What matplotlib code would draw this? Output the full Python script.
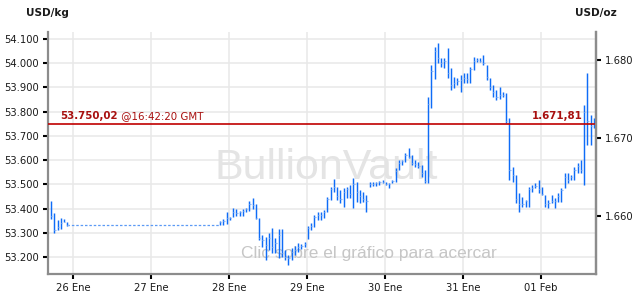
import matplotlib
matplotlib.use('Agg')
import matplotlib.pyplot as plt
import numpy as np

# precio del oro, barras horarias (USD/kg)
# viernes 25 Ene, ultimas horas
fri_hours = [-6.75, -5.75, -4.75, -3.75, -2.75, -1.75]
fri_high = [53431, 53383, 53353, 53360, 53357, 53346]
fri_low = [53356, 53300, 53312, 53314, 53345, 53329]
fri_close = [53371, 53310, 53325, 53340, 53345, 53331]

# desde el domingo 27 Ene 21h hasta el 01 Feb
start_hour = 45.25
high = [53350, 53356, 53385, 53366, 53401, 53397, 53390, 53397, 53404, 53431,
        53445, 53418, 53360, 53291, 53284, 53298, 53319, 53277, 53314, 53314,
        53229, 53208, 53236, 53245, 53258, 53254, 53263, 53328, 53339, 53373,
        53387, 53387, 53394, 53449, 53490, 53521, 53490, 53477, 53484, 53490,
        53497, 53525, 53511, 53477, 53470, 53456, 53508, 53508, 53508, 53514,
        53518, 53511, 53504, 53518, 53566, 53601, 53601, 53628, 53649, 53621,
        53601, 53594, 53580, 53559, 53862, 53993, 54068, 54082, 54020, 54022,
        54063, 53980, 53943, 53939, 53951, 53958, 53958, 53986, 54026, 54022,
        54022, 54034, 53993, 53938, 53910, 53889, 53902, 53881, 53876, 53773,
        53573, 53539, 53463, 53449, 53435, 53490, 53497, 53504, 53518, 53490,
        53456, 53435, 53456, 53444, 53463, 53484, 53546, 53546, 53539, 53573,
        53587, 53601, 53828, 53958, 53786, 53774]
low = [53332, 53332, 53335, 53353, 53366, 53369, 53369, 53369, 53387, 53390,
       53397, 53356, 53270, 53243, 53188, 53229, 53215, 53215, 53195, 53201,
       53188, 53167, 53188, 53208, 53222, 53233, 53243, 53273, 53312, 53325,
       53353, 53353, 53360, 53387, 53435, 53470, 53435, 53422, 53408, 53442,
       53442, 53401, 53428, 53422, 53428, 53387, 53490, 53494, 53494, 53497,
       53504, 53497, 53484, 53504, 53511, 53559, 53580, 53594, 53608, 53580,
       53573, 53566, 53532, 53507, 53507, 53814, 53934, 54000, 53986, 53980,
       53939, 53889, 53898, 53910, 53882, 53917, 53917, 53917, 53972, 54005,
       54005, 53993, 53931, 53889, 53861, 53848, 53852, 53861, 53752, 53518,
       53511, 53423, 53387, 53408, 53408, 53408, 53470, 53484, 53463, 53456,
       53408, 53401, 53422, 53401, 53428, 53428, 53484, 53504, 53518, 53518,
       53546, 53546, 53497, 53662, 53662, 53733]
close = [53345, 53350, 53360, 53362, 53385, 53380, 53385, 53390, 53400, 53420,
         53415, 53360, 53280, 53270, 53250, 53280, 53240, 53260, 53290, 53215,
         53200, 53195, 53220, 53230, 53240, 53245, 53255, 53320, 53330, 53365,
         53375, 53375, 53385, 53440, 53480, 53490, 53450, 53440, 53470, 53480,
         53460, 53500, 53470, 53450, 53440, 53430, 53500, 53500, 53505, 53508,
         53510, 53500, 53500, 53512, 53555, 53590, 53595, 53620, 53615, 53590,
         53585, 53575, 53545, 53515, 53830, 53970, 54050, 54020, 54000, 54010,
         53960, 53910, 53920, 53925, 53930, 53940, 53935, 53975, 54010, 54015,
         54010, 54000, 53945, 53900, 53880, 53860, 53870, 53870, 53760, 53560,
         53540, 53440, 53420, 53420, 53430, 53480, 53485, 53495, 53480, 53460,
         53420, 53425, 53430, 53430, 53450, 53475, 53530, 53520, 53530, 53560,
         53575, 53560, 53800, 53760, 53740, 53750]

last_kg = 53750.02
last_oz = 1671.81
oz_per_kg = 32.1507466

day_labels = ['26 Ene', '27 Ene', '28 Ene', '29 Ene', '30 Ene', '31 Ene', '01 Feb']
left_ticks = [53200, 53300, 53400, 53500, 53600, 53700, 53800, 53900, 54000, 54100]
right_ticks = [1660, 1670, 1680]


def eu(v):
    return '{:,.0f}'.format(v).replace(',', '.')


W, H = 643, 300
fig = plt.figure(figsize=(W / 100, H / 100), dpi=100)
ax = fig.add_axes([48 / W, 1 - 274 / H, (596 - 48) / W, (274 - 32) / H])

blue = '#0f6cf7'
x_fri = np.array(fri_hours) / 24
x_main = (start_hour + np.arange(len(high))) / 24

ax.vlines(x_fri, fri_low, fri_high, color=blue, lw=1.05, zorder=3)
ax.hlines(fri_close, x_fri, x_fri + 0.018, color='#8db6f5', lw=0.8, zorder=3)
ax.vlines(x_main, low, high, color=blue, lw=1.05, zorder=3)
ax.hlines(close, x_main, x_main + 0.018, color='#8db6f5', lw=0.8, zorder=3)
# fin de semana sin cotizacion
ax.plot([x_fri[-1], x_main[0]], [fri_close[-1], fri_close[-1]], ls=(0, (2, 1.5)),
        color='#5c9af5', lw=0.9, zorder=2)

ax.axhline(last_kg, color='#c00000', lw=1.2, zorder=4)

ax.set_xlim(-0.3205, 6.705)
ax.set_ylim(53130, 54129)
ax.set_xticks(range(len(day_labels)))
ax.set_xticklabels(day_labels)
ax.set_yticks(left_ticks)
ax.set_yticklabels([eu(v) for v in left_ticks])
ax.grid(True, color='#e8e8e8', lw=1.1, zorder=0)
ax.set_axisbelow(True)

for s in ['left', 'bottom', 'right']:
    ax.spines[s].set_color('#8c8c8c')
    ax.spines[s].set_linewidth(1.6)
ax.spines['top'].set_visible(False)
ax.tick_params(length=3.5, width=1.5, color='black', labelsize=7.2,
               labelcolor='#1a1a1a', pad=3)

ax2 = ax.twinx()
ax2.set_ylim(ax.get_ylim())
ax2.set_yticks([v * oz_per_kg for v in right_ticks])
ax2.set_yticklabels([eu(v) for v in right_ticks])
for s in ['left', 'bottom', 'top']:
    ax2.spines[s].set_visible(False)
ax2.spines['right'].set_color('#8c8c8c')
ax2.spines['right'].set_linewidth(1.6)
ax2.tick_params(length=3.5, width=1.5, color='black', labelsize=7.2,
                labelcolor='#1a1a1a', pad=3)

# marcas de agua
ax.text(0.508, 0.44, 'BullionVault', transform=ax.transAxes, ha='center', va='center',
        fontsize=31, family='Liberation Sans', color='#e4e4e4', zorder=1)
ax.text(0.585, 0.085, 'Clic sobre el gráfico para acercar', transform=ax.transAxes,
        ha='center', va='center', fontsize=12.5, family='Liberation Sans',
        color='#c6c6c6', zorder=1)

red = '#a8100f'
t1 = ax.text(12 / 548, last_kg + 12, '53.750,02', transform=ax.get_yaxis_transform(),
             fontsize=7.4, fontweight='bold', color=red, va='bottom', zorder=5)
ax.annotate(' @16:42:20 GMT', xy=(1, 0), xycoords=t1, fontsize=7.4, color=red,
            va='bottom', zorder=5)
ax.text((583 - 48) / 548, last_kg + 12, '1.671,81', transform=ax.get_yaxis_transform(),
        fontsize=7.4, fontweight='bold', color=red, va='bottom', ha='right', zorder=5)

fig.text(47 / W, 1 - 13 / H, 'USD/kg', ha='center', va='center', fontsize=7.5,
         fontweight='bold', color='#1a1a1a')
fig.text(596 / W, 1 - 13 / H, 'USD/oz', ha='center', va='center', fontsize=7.5,
         fontweight='bold', color='#1a1a1a')

fig.savefig('out.png', dpi=100)
